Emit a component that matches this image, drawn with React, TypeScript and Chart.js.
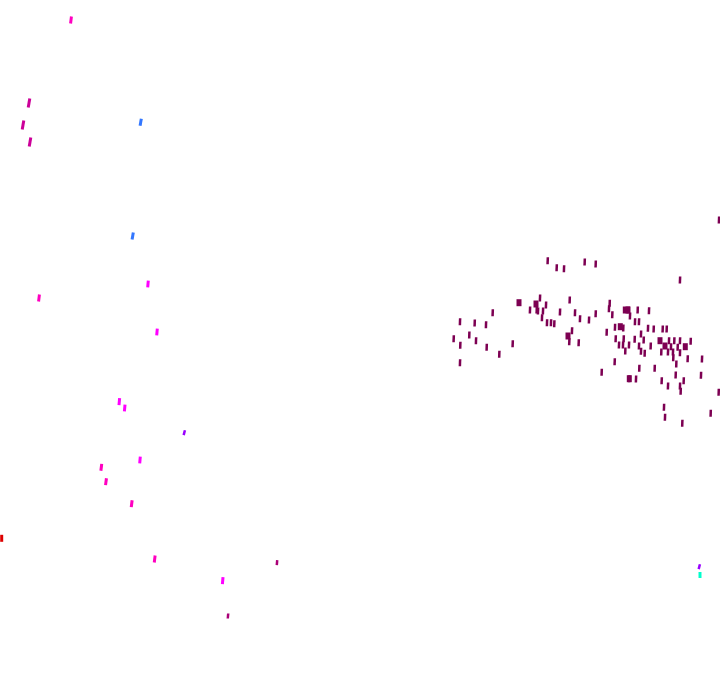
import React, { useEffect, useRef } from "react";
import { Chart, registerables } from "chart.js";

Chart.register(...registerables);

// Scattered observations (x, y in chart units)
const pinkTopX = [29, 23, 30];
const pinkTopY = [103, 125, 142];

const blueX = [140.7, 132.7];
const blueY = [122.3, 236];

const magentaX = [148, 157, 119.3, 124.7, 140, 222.7];
const magentaY = [284, 332, 401.7, 408, 460, 580.7];

const hotPinkX = [71, 39, 101.3, 106, 131.7, 154.7];
const hotPinkY = [20, 298, 467.3, 481.7, 503.7, 559];

const violetX = [184.3, 699.3];
const violetY = [432.7, 566.7];

const plumX = [277, 228];
const plumY = [562.7, 616];

const redX = [1.7];
const redY = [538.3];

const cyanX = [700];
const cyanY = [575];

const clusterX = [
  547.7, 556.7, 564, 584.7, 595.7, 680, 540, 546, 530, 536.7, 538, 543, 542, 560,
  569.7, 575, 580, 589, 595.7, 547, 551, 554.3, 492.7, 460, 474.7, 486, 469.3,
  453.7, 476, 460.3, 486.7, 512.7, 499.3, 460, 572, 569.3, 578.7, 609.7, 609,
  612.3, 628.7, 630, 637.7, 649, 635, 639, 606.7, 615, 623.3, 615.7, 623.7, 619,
  623, 629, 625.3, 614.7, 634.7, 639, 641, 643.7, 644.7, 641, 648, 650.7, 653.7,
  662.7, 666.7, 661.3, 669, 671, 668, 674.3, 673, 677.7, 680, 680, 690.7, 673.3,
  687.7, 702, 676.3, 639.3, 654.7, 601.7, 629.3, 636, 675.7, 661.7, 683.7, 668,
  680, 680.7, 701, 718.7, 664, 665, 682.3, 710.7, 719,
];
const clusterY = [
  260.7, 267.7, 268.7, 262, 264, 280, 298, 305, 310, 310, 311, 311, 317.7, 312,
  300, 312.7, 318.7, 320, 313.7, 322.7, 322.7, 323.7, 312.7, 321.7, 323, 324.7,
  335, 338.7, 340.7, 345.3, 347.3, 343.7, 354.3, 362.7, 330.7, 341.7, 342.7,
  303.3, 308.7, 314.7, 310, 316, 310, 310.7, 321.7, 321.7, 332.3, 327.3, 328,
  338.7, 338.7, 345, 345, 345, 351, 361.7, 339.3, 346, 334, 340, 353.3, 351.3,
  328.3, 346, 329, 329, 329, 352, 340.7, 346.7, 352, 340.7, 352, 347.3, 340.7,
  352.7, 341.3, 357.7, 358.7, 359, 364, 368.3, 368.3, 372.3, 378.7, 379, 375,
  380.7, 380.7, 386, 386, 391.3, 375.3, 392.3, 407.3, 417.3, 423.3, 413.3, 220,
];

const clusterBigX = [519, 536, 625.3, 620.3, 660, 665, 685.3, 568, 628, 629.3];
const clusterBigY = [302.7, 304, 310, 326.7, 340.7, 346, 346.7, 336, 310, 378.7];

function pts(xs: number[], ys: number[]) {
  return xs.map((x, i) => ({ x, y: ys[i] }));
}

function ds(label: string, xs: number[], ys: number[], color: string, w: number, r: number, rot: number) {
  return {
    label,
    data: pts(xs, ys),
    pointStyle: "line" as const,
    pointRotation: rot,
    pointRadius: r,
    pointHoverRadius: r,
    pointBorderWidth: w,
    pointHoverBorderWidth: w,
    borderColor: color,
    backgroundColor: color,
    showLine: false,
  };
}

export default function App() {
  const ref = useRef<HTMLCanvasElement | null>(null);
  useEffect(() => {
    if (!ref.current) return;
    const chart = new Chart(ref.current, {
      type: "scatter",
      data: {
        datasets: [
          ds("cluster", clusterX, clusterY, "#7d0052", 2.5, 3.5, 92),
          ds("clusterBig", clusterBigX, clusterBigY, "#7d0052", 5, 3.5, 90),
          ds("pinkTop", pinkTopX, pinkTopY, "#cc0099", 3, 4.5, 100),
          ds("blue", blueX, blueY, "#3377ff", 3, 3.5, 100),
          ds("magenta", magentaX, magentaY, "#ff00ff", 3, 3.5, 95),
          ds("hotPink", hotPinkX, hotPinkY, "#ff00c0", 3, 3.5, 97),
          ds("violet", violetX, violetY, "#9900ff", 2.5, 2.5, 105),
          ds("plum", plumX, plumY, "#aa0077", 2.5, 2.5, 95),
          ds("red", redX, redY, "#dd0000", 3, 3.5, 90),
          ds("cyan", cyanX, cyanY, "#00ffcc", 3, 3, 90),
        ],
      },
      options: {
        responsive: false,
        animation: false,
        layout: { padding: 0, autoPadding: false },
        plugins: { legend: { display: false }, tooltip: { enabled: false } },
        scales: {
          x: { type: "linear", min: 0, max: 720, display: false },
          y: { type: "linear", min: 0, max: 692, reverse: true, display: false },
        },
      },
    });
    return () => chart.destroy();
  }, []);
  return (
    <div style={{ position: "absolute", left: 0, top: 0, width: 720, height: 692, background: "#fff" }}>
      <canvas ref={ref} width={720} height={692} style={{ display: "block" }} />
    </div>
  );
}
